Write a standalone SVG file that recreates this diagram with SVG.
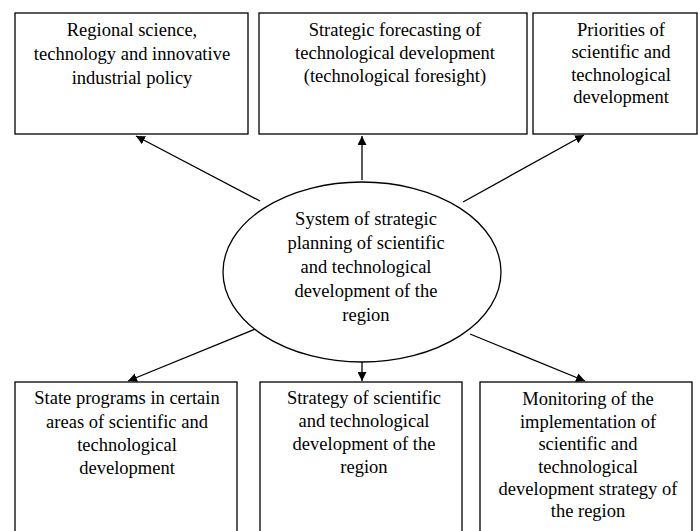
<svg xmlns="http://www.w3.org/2000/svg" width="698" height="531" viewBox="0 0 698 531">
<defs>
<style>
.box{fill:#fff;stroke:#000;stroke-width:1.3}
.c{stroke:#000;stroke-width:1.3;fill:none;marker-end:url(#ah)}
</style>
<marker id="ah" viewBox="0 0 10 10" refX="10" refY="5" markerWidth="9" markerHeight="9" markerUnits="userSpaceOnUse" orient="auto">
<path d="M0,0 L10,5 L0,10 z" fill="#000"/>
</marker>
</defs>
<rect width="698" height="531" fill="#fff"/>
<g id="connectors">
<line class="c" x1="260" y1="201" x2="136" y2="136"/>
<line class="c" x1="362" y1="180" x2="362" y2="136"/>
<line class="c" x1="463" y1="202" x2="584" y2="135"/>
<line class="c" x1="258" y1="328" x2="128" y2="381"/>
<line class="c" x1="362" y1="362" x2="362" y2="381"/>
<line class="c" x1="470" y1="334" x2="585" y2="381"/>
</g>
<g font-family="Liberation Serif, serif" font-size="18.5" fill="#000" text-anchor="middle">
<g id="n1">
<rect class="box" x="15" y="13" width="233" height="121"/>
<text x="132" y="36">Regional science,</text>
<text x="132" y="60">technology and innovative</text>
<text x="132" y="84">industrial policy</text>
</g>
<g id="n2">
<rect class="box" x="259" y="13" width="268" height="121"/>
<text x="395" y="36">Strategic forecasting of</text>
<text x="395" y="59">technological development</text>
<text x="395" y="82">(technological foresight)</text>
</g>
<g id="n3">
<rect class="box" x="533" y="13" width="164" height="121"/>
<text x="621" y="36">Priorities of</text>
<text x="621" y="58">scientific and</text>
<text x="621" y="81">technological</text>
<text x="621" y="103">development</text>
</g>
<g id="center">
<ellipse class="box" cx="362" cy="272" rx="139" ry="90"/>
<text x="366" y="225">System of strategic</text>
<text x="366" y="249">planning of scientific</text>
<text x="366" y="273">and technological</text>
<text x="366" y="297">development of the</text>
<text x="366" y="321">region</text>
</g>
<g id="n4">
<rect class="box" x="15" y="382" width="222" height="160"/>
<text x="127" y="404">State programs in certain</text>
<text x="127" y="428">areas of scientific and</text>
<text x="127" y="451">technological</text>
<text x="127" y="474">development</text>
</g>
<g id="n5">
<rect class="box" x="260" y="382" width="202" height="160"/>
<text x="364" y="404">Strategy of scientific</text>
<text x="364" y="427">and technological</text>
<text x="364" y="450">development of the</text>
<text x="364" y="473">region</text>
</g>
<g id="n6">
<rect class="box" x="480" y="382" width="212" height="160"/>
<text x="588" y="405">Monitoring of the</text>
<text x="588" y="428">implementation of</text>
<text x="588" y="450">scientific and</text>
<text x="588" y="473">technological</text>
<text x="588" y="495">development strategy of</text>
<text x="588" y="517">the region</text>
</g>
</g>
</svg>
